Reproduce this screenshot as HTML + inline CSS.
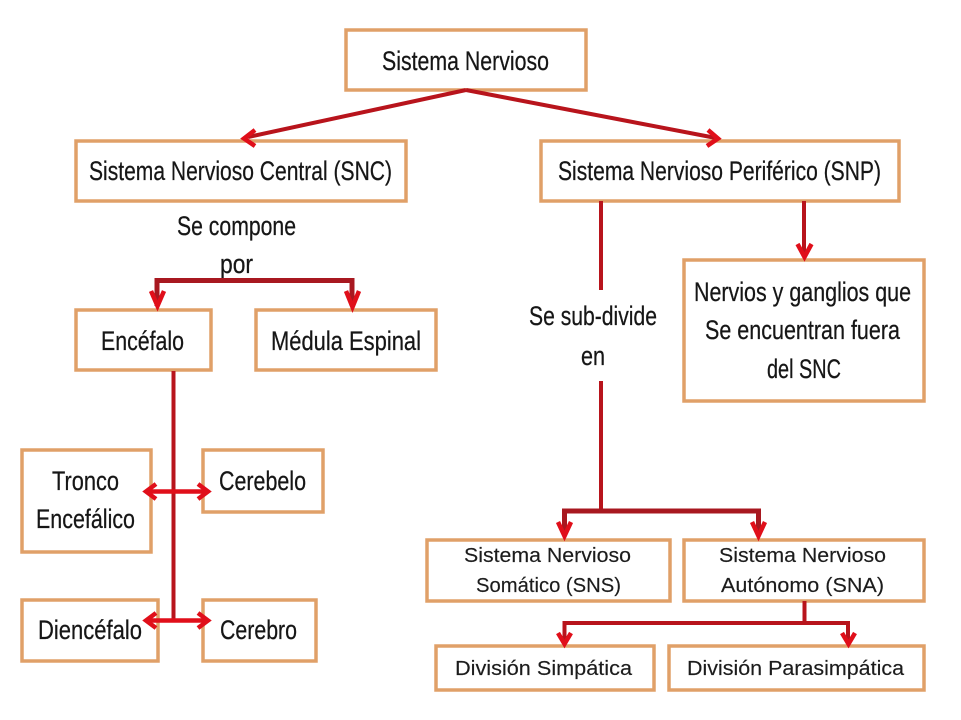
<!DOCTYPE html>
<html lang="es">
<head>
<meta charset="utf-8">
<title>Sistema Nervioso</title>
<style>
html,body{margin:0;padding:0;background:#fff;width:961px;height:720px;overflow:hidden}
svg{display:block;position:absolute;left:0;top:0;filter:blur(0.35px)}
.b{fill:#fff;stroke:#e0a068;stroke-width:3.5}
.t{font-family:"Liberation Sans",sans-serif;font-size:27px;fill:#161616;stroke:#161616;stroke-width:0.25}
.s{font-family:"Liberation Sans",sans-serif;font-size:20px;fill:#1c1c1c;stroke:#1c1c1c;stroke-width:0.15}
.l{fill:none;stroke:#b8141c;stroke-width:4}
.h{fill:none;stroke:#a81820;stroke-width:5}
.a{fill:none;stroke:#e00f1a;stroke-width:4.5;stroke-linejoin:miter}
</style>
</head>
<body>
<svg width="961" height="720" viewBox="0 0 961 720" xmlns="http://www.w3.org/2000/svg">
<rect width="961" height="720" fill="#fff"/>
<!-- boxes -->
<rect class="b" x="346" y="30" width="240" height="60"/>
<rect class="b" x="76" y="141" width="330" height="60"/>
<rect class="b" x="541" y="141" width="358" height="60"/>
<rect class="b" x="76" y="310" width="135" height="60"/>
<rect class="b" x="256" y="310" width="180" height="60"/>
<rect class="b" x="684" y="260" width="240" height="141"/>
<rect class="b" x="22" y="450" width="129" height="102"/>
<rect class="b" x="203" y="450" width="120" height="62"/>
<rect class="b" x="22" y="600" width="136" height="61"/>
<rect class="b" x="203" y="600" width="113" height="61"/>
<rect class="b" x="427" y="540" width="243" height="61"/>
<rect class="b" x="684" y="540" width="240" height="61"/>
<rect class="b" x="436" y="646" width="218" height="44"/>
<rect class="b" x="669" y="646" width="255" height="44"/>
<!-- labels -->
<text class="t" x="382" y="70" textLength="167" lengthAdjust="spacingAndGlyphs">Sistema Nervioso</text>
<text class="t" x="89" y="180" textLength="303" lengthAdjust="spacingAndGlyphs">Sistema Nervioso Central (SNC)</text>
<text class="t" x="558" y="180" textLength="323" lengthAdjust="spacingAndGlyphs">Sistema Nervioso Periférico (SNP)</text>
<text class="t" x="177" y="235" textLength="119" lengthAdjust="spacingAndGlyphs">Se compone</text>
<text class="t" x="220" y="273" textLength="33" lengthAdjust="spacingAndGlyphs">por</text>
<text class="t" x="101" y="350" textLength="83" lengthAdjust="spacingAndGlyphs">Encéfalo</text>
<text class="t" x="271" y="350" textLength="150" lengthAdjust="spacingAndGlyphs">Médula Espinal</text>
<text class="t" x="529" y="325" textLength="128" lengthAdjust="spacingAndGlyphs">Se sub-divide</text>
<text class="t" x="581" y="365" textLength="24" lengthAdjust="spacingAndGlyphs">en</text>
<text class="t" x="694" y="301" textLength="217" lengthAdjust="spacingAndGlyphs">Nervios y ganglios que</text>
<text class="t" x="705" y="339" textLength="195" lengthAdjust="spacingAndGlyphs">Se encuentran fuera</text>
<text class="t" x="767" y="378" textLength="74" lengthAdjust="spacingAndGlyphs">del SNC</text>
<text class="t" x="52" y="490" textLength="67" lengthAdjust="spacingAndGlyphs">Tronco</text>
<text class="t" x="36" y="528" textLength="99" lengthAdjust="spacingAndGlyphs">Encefálico</text>
<text class="t" x="219" y="490" textLength="87" lengthAdjust="spacingAndGlyphs">Cerebelo</text>
<text class="t" x="38" y="639" textLength="104" lengthAdjust="spacingAndGlyphs">Diencéfalo</text>
<text class="t" x="220" y="639" textLength="77" lengthAdjust="spacingAndGlyphs">Cerebro</text>
<text class="s" x="464" y="562" textLength="167" lengthAdjust="spacingAndGlyphs">Sistema Nervioso</text>
<text class="s" x="476" y="592" textLength="145" lengthAdjust="spacingAndGlyphs">Somático (SNS)</text>
<text class="s" x="719" y="562" textLength="167" lengthAdjust="spacingAndGlyphs">Sistema Nervioso</text>
<text class="s" x="721" y="592" textLength="163" lengthAdjust="spacingAndGlyphs">Autónomo (SNA)</text>
<text class="s" x="455" y="675" textLength="177" lengthAdjust="spacingAndGlyphs">División Simpática</text>
<text class="s" x="687" y="675" textLength="217" lengthAdjust="spacingAndGlyphs">División Parasimpática</text>
<!-- connectors -->
<path class="l" d="M466 90 L248 137 M466 90 L716 138"/>
<path class="h" d="M157 306 V280.500 H352 V306"/>
<path class="l" d="M173.500 371 V620"/>
<path class="l" d="M601 201 V290 M601 381 V511"/>
<path class="h" d="M564.500 536 V511 H758.500 V536"/>
<path class="l" d="M804 201 V256"/>
<path class="l" d="M804.500 601 V623 H848 V642 M804.500 623 H564.500 V642"/>
<path class="a" d="M147 491.500 H207 M147 620.500 H207"/>
<!-- arrowheads -->
<path class="a" d="M255 130 L244 138.500 L255 146"/>
<path class="a" d="M708 130 L718 138.500 L707 146"/>
<path class="a" d="M151 291 L157.500 306 L164 291"/>
<path class="a" d="M346 291 L352.500 307 L359 291"/>
<path class="a" d="M797.500 244 L804.500 257 L811.500 244"/>
<path class="a" d="M558 522 L564.500 536 L571 522"/>
<path class="a" d="M752 522 L758.500 536 L765 522"/>
<path class="a" d="M558 633 L564.500 644 L571 633"/>
<path class="a" d="M842 633 L848.500 644 L855 633"/>
<path class="a" d="M156 484 L146 491.500 L156 499"/>
<path class="a" d="M198 484 L208 491.500 L198 499"/>
<path class="a" d="M156 613 L146 620.500 L156 628"/>
<path class="a" d="M198 613 L208 620.500 L198 628"/>
</svg>
</body>
</html>
